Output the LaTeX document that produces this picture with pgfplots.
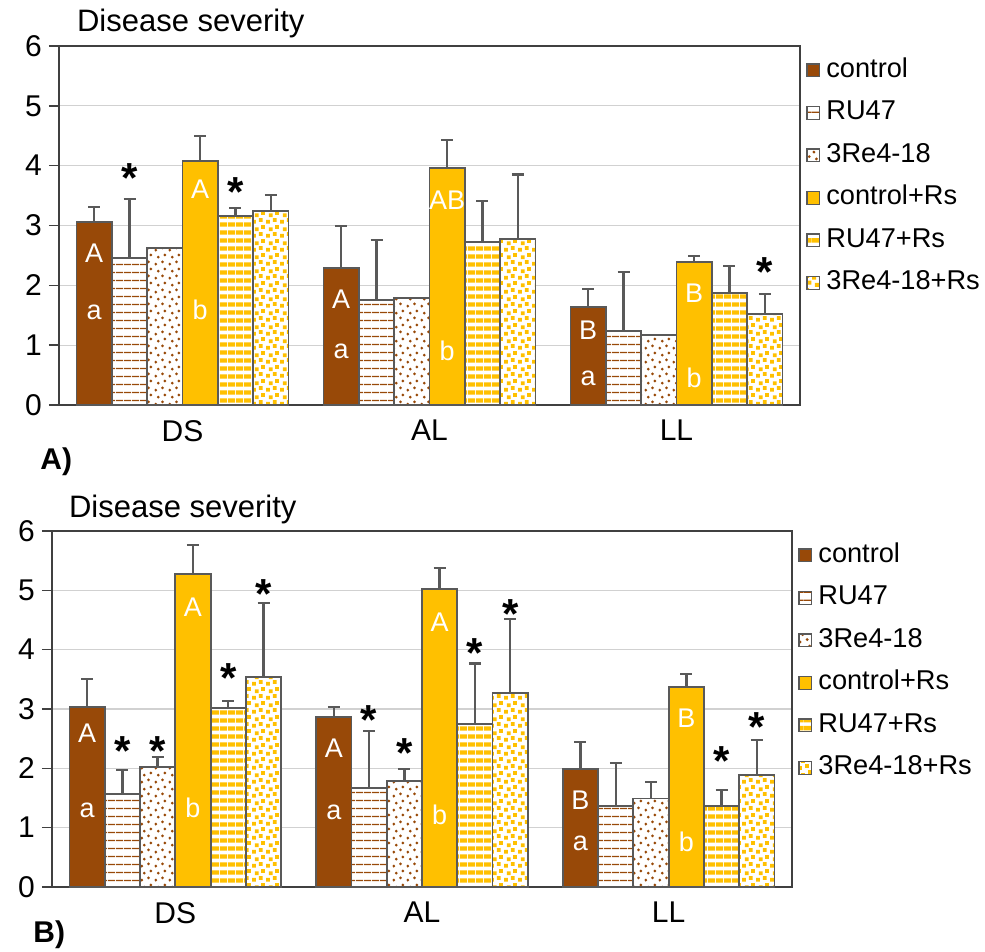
\documentclass[border=0pt]{standalone}
\usepackage{fontspec}
\setmainfont{Liberation Sans}
\usepackage{pgfplots}
\pgfplotsset{compat=1.18}
\usetikzlibrary{patterns.meta}

\definecolor{brn}{RGB}{152,73,8}
\definecolor{gld}{RGB}{255,192,0}
\definecolor{edge}{RGB}{89,89,89}

% small dots (brown) and small squares (gold)
\tikzdeclarepattern{
  name=brdots, type=uncolored,
  bounding box={(0,0) and (7pt,7pt)}, tile size={(7pt,7pt)},
  code={
    \fill (1pt,1pt) circle (0.8pt);
    \fill (4.6pt,2.2pt) circle (0.8pt);
    \fill (2.3pt,4.7pt) circle (0.8pt);
    \fill (5.8pt,5.9pt) circle (0.8pt);
  }}
\tikzdeclarepattern{
  name=gsq, type=uncolored,
  bounding box={(0,0) and (7pt,7pt)}, tile size={(7pt,7pt)},
  code={
    \fill (0.1pt,0.2pt) rectangle (2.1pt,2.2pt);
    \fill (3.7pt,1.1pt) rectangle (5.7pt,3.1pt);
    \fill (1.5pt,3.7pt) rectangle (3.5pt,5.7pt);
    \fill (4.9pt,4.9pt) rectangle (6.9pt,6.9pt);
  }}

\pgfplotsset{
  dsaxis/.style={
    scale only axis, xmin=-0.5, xmax=2.5, ymin=0, ymax=6,
    ytick={0,1,...,6}, xtick={0,1,2}, xticklabels={DS,AL,LL},
    major x tick style={draw=none},
    ymajorgrids, grid style={black!18, line width=0.6pt},
    axis line style={black!75, line width=0.8pt},
    tick style={black!75, line width=0.8pt},
    tick align=outside, major tick length=5pt, ytick pos=left,
    /pgf/number format/assume math mode=true,
    yticklabel style={font=\fontsize{15}{17}\selectfont},
    xticklabel style={font=\fontsize{15}{17}\selectfont, yshift=1pt},
    clip=false,
    legend style={at={(1,1)}, anchor=north west, xshift=3pt, yshift=-6pt,
      draw=none, fill=none, inner sep=0pt, row sep=9.25pt,
      font=\fontsize{13.6}{15}\selectfont,
      nodes={text height=9.5pt, text depth=2.5pt, inner xsep=3pt, inner ysep=0pt}},
    legend cell align=left,
    legend image code/.code={\draw[##1, line width=0.6pt, draw=edge]
      (0pt,-3.2pt) rectangle (6.4pt,3.2pt);},
  },
  bars/.style={ybar, bar width=0.143, bar shift=0pt, draw=edge, line width=0.9pt},
  errs/.style={error bars/.cd, y dir=plus, y explicit, error mark=|,
    error bar style={line width=1.2pt, draw=edge, solid},
    error mark options={draw=edge, line width=1.2pt, mark size=3pt}},
  s1/.style={bars, fill=brn},
  s2/.style={bars, fill=white,
    postaction={pattern={Lines[distance=4pt, line width=0.7pt]}, pattern color=brn}},
  s3/.style={bars, fill=white,
    postaction={pattern=brdots, pattern color=brn}},
  s4/.style={bars, fill=gld},
  s5/.style={bars, fill=white,
    postaction={pattern={Lines[distance=4pt, line width=2.4pt]}, pattern color=gld}},
  s6/.style={bars, fill=white,
    postaction={pattern=gsq, pattern color=gld}},
  letters/.style={forget plot, only marks, mark=none, point meta=explicit symbolic,
    nodes near coords,
    every node near coord/.append style={anchor=center, inner sep=0pt,
      text=white, font=\fontsize{13.5}{15}\selectfont}},
  stars/.style={forget plot, only marks, mark=none, nodes near coords={\bfseries *},
    every node near coord/.append style={anchor=center, inner sep=0pt,
      yshift=-4pt, font=\fontsize{21}{21}\selectfont}},
}

\begin{document}
\begin{tikzpicture}
\useasboundingbox (0,0) rectangle (492.5pt,-476pt);

% ---------------- A) ----------------
% bar centres: group + (-0.3575, -0.2145, -0.0715, 0.0715, 0.2145, 0.3575)
\begin{axis}[dsaxis, at={(29.5pt,-23pt)}, anchor=north west,
  width=370.5pt, height=179.5pt]
\addplot[s1, errs] coordinates {(-0.3575,3.06) +- (0,0.25) (0.6425,2.29) +- (0,0.70) (1.6425,1.64) +- (0,0.30)};
\addplot[s2, errs] coordinates {(-0.2145,2.46) +- (0,0.98) (0.7855,1.76) +- (0,1.00) (1.7855,1.24) +- (0,0.98)};
\addplot[s3] coordinates {(-0.0715,2.62) (0.9285,1.79) (1.9285,1.17)};
\addplot[s4, errs] coordinates {(0.0715,4.08) +- (0,0.42) (1.0715,3.96) +- (0,0.47) (2.0715,2.39) +- (0,0.10)};
\addplot[s5, errs] coordinates {(0.2145,3.16) +- (0,0.13) (1.2145,2.73) +- (0,0.68) (2.2145,1.87) +- (0,0.45)};
\addplot[s6, errs] coordinates {(0.3575,3.24) +- (0,0.27) (1.3575,2.78) +- (0,1.07) (2.3575,1.52) +- (0,0.34)};
\legend{control,RU47,3Re4-18,control+Rs,RU47+Rs,3Re4-18+Rs}
\addplot[letters] coordinates {
  (-0.3575,2.54) [A] (-0.3575,1.55) [a] (0.0715,3.60) [A] (0.0715,1.59) [b]
  (0.6425,1.76) [A] (0.6425,0.90) [a] (1.0715,3.43) [AB] (1.0715,0.90) [b]
  (1.6425,1.25) [B] (1.6425,0.45) [a] (2.0715,1.87) [B] (2.0715,0.45) [b]};
\addplot[stars] coordinates {(-0.2145,3.93) (0.2145,3.70) (2.3575,2.36)};
\end{axis}

% ---------------- B) ----------------
\begin{axis}[dsaxis, at={(26pt,-265.5pt)}, anchor=north west,
  width=370pt, height=178pt]
\addplot[s1, errs] coordinates {(-0.3575,3.03) +- (0,0.48) (0.6425,2.87) +- (0,0.16) (1.6425,1.99) +- (0,0.45)};
\addplot[s2, errs] coordinates {(-0.2145,1.57) +- (0,0.40) (0.7855,1.67) +- (0,0.96) (1.7855,1.37) +- (0,0.72)};
\addplot[s3, errs] coordinates {(-0.0715,2.02) +- (0,0.17) (0.9285,1.79) +- (0,0.20) (1.9285,1.49) +- (0,0.28)};
\addplot[s4, errs] coordinates {(0.0715,5.28) +- (0,0.48) (1.0715,5.02) +- (0,0.36) (2.0715,3.37) +- (0,0.22)};
\addplot[s5, errs] coordinates {(0.2145,3.02) +- (0,0.11) (1.2145,2.75) +- (0,1.02) (2.2145,1.37) +- (0,0.26)};
\addplot[s6, errs] coordinates {(0.3575,3.54) +- (0,1.25) (1.3575,3.27) +- (0,1.25) (2.3575,1.89) +- (0,0.59)};
\legend{control,RU47,3Re4-18,control+Rs,RU47+Rs,3Re4-18+Rs}
\addplot[letters] coordinates {
  (-0.3575,2.60) [A] (-0.3575,1.30) [a] (0.0715,4.72) [A] (0.0715,1.33) [b]
  (0.6425,2.34) [A] (0.6425,1.25) [a] (1.0715,4.47) [A] (1.0715,1.21) [b]
  (1.6425,1.47) [B] (1.6425,0.74) [a] (2.0715,2.85) [B] (2.0715,0.76) [b]};
\addplot[stars] coordinates {(-0.2145,2.43) (-0.0715,2.43) (0.2145,3.66) (0.3575,5.07)
  (0.7855,2.95) (0.9285,2.39) (1.2145,4.08) (1.3575,4.74)
  (2.2145,2.26) (2.3575,2.83)};
\end{axis}

\node[anchor=base west, font=\fontsize{15.5}{18}\selectfont] at (35pt,-16pt) {Disease severity};
\node[anchor=base west, font=\fontsize{15.5}{18}\selectfont] at (31pt,-258.5pt) {Disease severity};
\node[anchor=west, inner sep=0pt, font=\bfseries\fontsize{15}{18}\selectfont] at (20pt,-231pt) {A)};
\node[anchor=west, inner sep=0pt, font=\bfseries\fontsize{15}{18}\selectfont] at (16.5pt,-467.5pt) {B)};
\end{tikzpicture}
\end{document}
